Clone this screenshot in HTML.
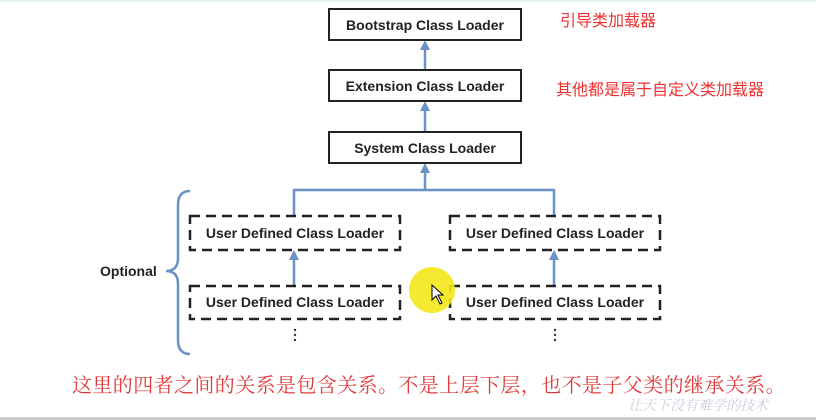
<!DOCTYPE html>
<html><head><meta charset="utf-8"><style>
html,body{margin:0;padding:0;background:#fff;}
body{width:816px;height:420px;position:relative;overflow:hidden;font-family:"Liberation Sans",sans-serif;}
.b{position:absolute;border:2px solid #222;box-sizing:border-box;background:#fff;font-weight:bold;font-size:14px;color:#222;display:flex;align-items:center;justify-content:center;}
.t{position:absolute;white-space:nowrap;}
</style></head><body>
<div style="position:absolute;left:0;top:0;width:816px;height:2px;background:#e6f2f2"></div>
<div style="position:absolute;left:0;top:417px;width:816px;height:3px;background:#ccc"></div>
<svg width="816" height="420" style="position:absolute;left:0;top:0">
<g stroke="#6a93c4" stroke-width="2.5" fill="none">
<line x1="425" y1="70" x2="425" y2="44"/>
<line x1="425" y1="131" x2="425" y2="105"/>
<line x1="425" y1="190" x2="425" y2="167"/>
<polyline points="294,216 294,190 554,190 554,216"/>
<line x1="294" y1="286" x2="294" y2="254"/>
<line x1="554" y1="286" x2="554" y2="254"/>
<path d="M190,191 Q178,191 178,205 L178,258 Q178,271 166,271 Q178,271 178,284 L178,340 Q178,354 190,354" stroke-width="2.5"/>
</g>
<g fill="#6a93c4">
<polygon points="425,40 420,50 430,50"/>
<polygon points="425,101 420,111 430,111"/>
<polygon points="425,163 420,173 430,173"/>
<polygon points="294,250 289,260 299,260"/>
<polygon points="554,250 549,260 559,260"/>
</g>
<g stroke="#222" stroke-width="2.5" fill="#fff" stroke-dasharray="10,6">
<rect x="190" y="216" width="210" height="34"/>
<rect x="450" y="216" width="210" height="34"/>
<rect x="190" y="286" width="210" height="33"/>
<rect x="450" y="286" width="210" height="33"/>
</g>
<circle cx="432" cy="290" r="23" fill="#f5e81a" opacity="0.9"/>
<g fill="#333"><circle cx="295" cy="330" r="1.2"/><circle cx="295" cy="335" r="1.2"/><circle cx="295" cy="340" r="1.2"/>
<circle cx="555" cy="330" r="1.2"/><circle cx="555" cy="335" r="1.2"/><circle cx="555" cy="340" r="1.2"/></g>
<path d="M432,285 L432,300 L436,296 L440,304 L442,303 L438,295 L443,295 Z" fill="#fff" stroke="#000" stroke-width="1"/>
</svg>
<div class="b" style="left:328px;top:8px;width:194px;height:33px">Bootstrap Class Loader</div>
<div class="b" style="left:328px;top:69px;width:194px;height:33px">Extension Class Loader</div>
<div class="b" style="left:328px;top:131px;width:194px;height:33px">System Class Loader</div>
<div class="t" style="left:190px;top:225px;width:210px;text-align:center;font-weight:bold;font-size:14px;color:#222">User Defined Class Loader</div>
<div class="t" style="left:450px;top:225px;width:210px;text-align:center;font-weight:bold;font-size:14px;color:#222">User Defined Class Loader</div>
<div class="t" style="left:190px;top:294px;width:210px;text-align:center;font-weight:bold;font-size:14px;color:#222">User Defined Class Loader</div>
<div class="t" style="left:450px;top:294px;width:210px;text-align:center;font-weight:bold;font-size:14px;color:#222">User Defined Class Loader</div>
<div class="t" style="left:100px;top:263px;font-weight:bold;font-size:14px;color:#222">Optional</div>
<div class="t" style="left:560px;top:7px;font-size:16px;color:#f03030;font-family:'Liberation Sans','Noto Sans CJK SC',sans-serif">引导类加载器</div>
<div class="t" style="left:556px;top:76px;font-size:16px;color:#f03030;font-family:'Liberation Sans','Noto Sans CJK SC',sans-serif">其他都是属于自定义类加载器</div>
<div class="t" style="left:72px;top:369px;font-size:20px;letter-spacing:0.4px;color:#e03a3a;font-family:'Liberation Serif','Noto Serif CJK SC',serif">这里的四者之间的关系是包含关系。不是上层下层，也不是子父类的继承关系。</div>
<div class="t" style="left:628px;top:395px;font-size:14px;color:#ccd;font-style:italic;font-family:'Liberation Serif','Noto Serif CJK SC',serif">让天下没有难学的技术</div>
</body></html>
